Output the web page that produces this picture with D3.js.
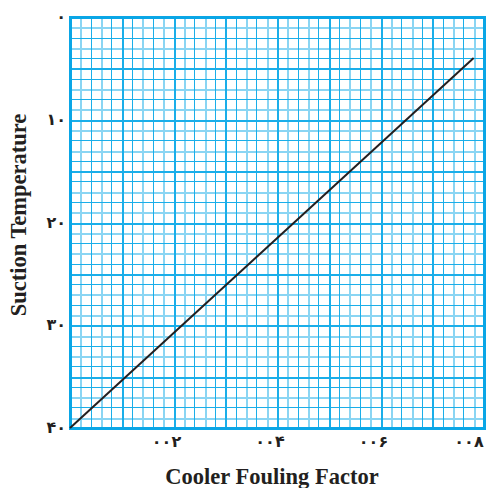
<!DOCTYPE html>
<html>
<head>
<meta charset="utf-8">
<script src="https://cdn.jsdelivr.net/npm/d3@7"></script>
<style>
  html, body { margin: 0; padding: 0; background: #fff; }
</style>
</head>
<body>
<svg id="chart" width="489" height="488"></svg>
<script>
// ---- data ----
const xTicks = [0.02, 0.04, 0.06, 0.08];
const xTickLabels = ["۰۰۲", "۰۰۴", "۰۰۶", "۰۰۸"];
const yTicks = [0, 10, 20, 30, 40];
const yTickLabels = ["۰", "۱۰", "۲۰", "۳۰", "۴۰"];
const lineX = [0, 0.078];
const lineY = [40, 4];
const xTitle = "Cooler Fouling Factor";
const yTitle = "Suction Temperature";

// ---- layout ----
const svg = d3.select("#chart");
const m = {left: 70, right: 5, top: 17, bottom: 60};
const W = 489, H = 488;
const x = d3.scaleLinear().domain([0, 0.08]).range([m.left, W - m.right]);
const y = d3.scaleLinear().domain([0, 40]).range([m.top, H - m.bottom]);

const dark = "#1aaee9", light = "#8ad5f3";
const g = svg.append("g").attr("shape-rendering", "crispEdges");

const xs = d3.range(0, 41).map(i => i * 0.002);
const ys = d3.range(0, 41).map(i => i);
const px = v => Math.round(v) + 0.5;

function vlines(data, color, w) {
  g.append("g").selectAll("line").data(data).join("line")
    .attr("x1", d => px(x(d))).attr("x2", d => px(x(d)))
    .attr("y1", y(0)).attr("y2", y(40))
    .attr("stroke", color).attr("stroke-width", w);
}
function hlines(data, color, w) {
  g.append("g").selectAll("line").data(data).join("line")
    .attr("y1", d => px(y(d))).attr("y2", d => px(y(d)))
    .attr("x1", x(0)).attr("x2", x(0.08))
    .attr("stroke", color).attr("stroke-width", w);
}
vlines(xs.filter((d, i) => i % 2 === 1 && i % 5 !== 0), light, 2);
hlines(ys.filter((d, i) => i % 2 === 1 && i % 5 !== 0), light, 2);
vlines(xs.filter((d, i) => i % 2 === 0 && i % 5 !== 0), dark, 1);
hlines(ys.filter((d, i) => i % 2 === 0 && i % 5 !== 0), dark, 1);
vlines(xs.filter((d, i) => i % 5 === 0), dark, 2);
hlines(ys.filter((d, i) => i % 5 === 0), dark, 2);

// border
g.append("rect")
  .attr("x", x(0)).attr("y", y(0))
  .attr("width", x(0.08) - x(0)).attr("height", y(40) - y(0))
  .attr("fill", "none").attr("stroke", "#0aa6e6").attr("stroke-width", 3);

// data line
const pts = lineX.map((d, i) => [d, lineY[i]]);
svg.append("path")
  .attr("d", d3.line().x(d => x(d[0])).y(d => y(d[1]))(pts))
  .attr("fill", "none").attr("stroke", "#231f20").attr("stroke-width", 2);

// y tick labels
svg.selectAll(".yt").data(yTicks).join("text")
  .attr("x", x(0) - 4).attr("y", d => y(d) + 5)
  .attr("text-anchor", "end")
  .attr("font-family", "DejaVu Sans, sans-serif").attr("font-weight", "bold")
  .attr("font-size", 16).attr("letter-spacing", 2).attr("fill", "#231f20")
  .text((d, i) => yTickLabels[i]);

// x tick labels
svg.selectAll(".xt").data(xTicks).join("text")
  .attr("x", d => Math.min(x(d) - 7, W - 20)).attr("y", y(40) + 19)
  .attr("text-anchor", "middle")
  .attr("font-family", "DejaVu Sans, sans-serif").attr("font-weight", "bold")
  .attr("font-size", 16).attr("letter-spacing", 3).attr("fill", "#231f20")
  .text((d, i) => xTickLabels[i]);

// titles
svg.append("text")
  .attr("x", 272).attr("y", 484)
  .attr("text-anchor", "middle")
  .attr("font-family", "Liberation Serif, Times New Roman, serif").attr("font-weight", "bold")
  .attr("font-size", 22.5).attr("fill", "#231f20")
  .text(xTitle);
svg.append("text")
  .attr("transform", "translate(26,215) rotate(-90)")
  .attr("text-anchor", "middle")
  .attr("font-family", "Liberation Serif, Times New Roman, serif").attr("font-weight", "bold")
  .attr("font-size", 22.5).attr("fill", "#231f20")
  .text(yTitle);
</script>
</body>
</html>
